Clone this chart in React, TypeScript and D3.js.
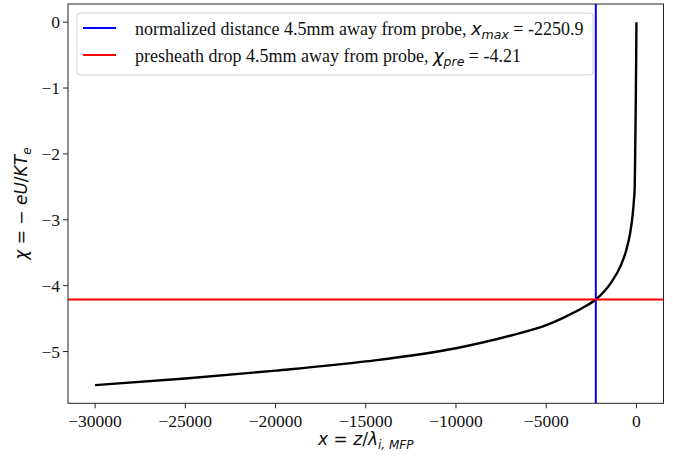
import React from "react";
import * as d3 from "d3";

// Normalized distance x = z/λ and normalized potential χ along the presheath
const xValues = [
  -30000, -25000, -20000, -15000, -10000, -7000, -5000, -4000, -3000, -2250.9,
  -1393, -877, -552, -348, -219, -138, -95, -70, -48, -29, -13, 0,
];
const chiValues = [
  -5.51, -5.41, -5.29, -5.15, -4.95, -4.76, -4.6, -4.48, -4.34, -4.21,
  -3.95, -3.7, -3.45, -3.2, -2.95, -2.7, -2.5, -2.0, -1.5, -1.0, -0.5, 0,
];

const xMax = -2250.9;
const chiPre = -4.21;

const xTicks = [-30000, -25000, -20000, -15000, -10000, -5000, 0];
const yTicks = [0, -1, -2, -3, -4, -5];

const W = 673;
const H = 459;
const M = { left: 68, right: 663.5, top: 4, bottom: 403.3 };

const serif = "'Liberation Serif', 'Times New Roman', serif";
const math = "'DejaVu Sans', sans-serif";

const fmt = (v: number) => (v < 0 ? "\u2212" + Math.abs(v) : String(v));

export default function App() {
  const xMin = d3.min(xValues)!;
  const xHi = d3.max(xValues)!;
  const xPad = (xHi - xMin) * 0.05;
  const yMin = d3.min(chiValues)!;
  const yHi = d3.max(chiValues)!;
  const yPad = (yHi - yMin) * 0.05;

  const x = d3.scaleLinear().domain([xMin - xPad, xHi + xPad]).range([M.left, M.right]);
  const y = d3.scaleLinear().domain([yMin - yPad, yHi + yPad]).range([M.bottom, M.top]);

  const pts = xValues.map((v, i) => [v, chiValues[i]] as [number, number]);
  const line = d3
    .line<[number, number]>()
    .x((d) => x(d[0]))
    .y((d) => y(d[1]))
    .curve(d3.curveMonotoneX);

  const legendX = 77;
  const legendY = 13;
  const legendW = 516;
  const legendH = 62;

  return (
    <svg
      width={W}
      height={H}
      style={{ position: "absolute", left: 0, top: 0, background: "#fff" }}
    >
      <defs>
        <clipPath id="plotArea">
          <rect x={M.left} y={M.top} width={M.right - M.left} height={M.bottom - M.top} />
        </clipPath>
      </defs>

      <g clipPath="url(#plotArea)">
        <path d={line(pts) ?? ""} fill="none" stroke="#000" strokeWidth={2.4} strokeLinejoin="round" />
        <line x1={x(xMax)} x2={x(xMax)} y1={M.top} y2={M.bottom} stroke="#0000ff" strokeWidth={2} />
        <line x1={M.left} x2={M.right} y1={y(chiPre)} y2={y(chiPre)} stroke="#ff0000" strokeWidth={2} />
      </g>

      {/* frame */}
      <rect
        x={M.left}
        y={M.top}
        width={M.right - M.left}
        height={M.bottom - M.top}
        fill="none"
        stroke="#222"
        strokeWidth={1}
      />

      {/* x axis */}
      {xTicks.map((t) => (
        <g key={"x" + t}>
          <line x1={x(t)} x2={x(t)} y1={M.bottom} y2={M.bottom + 5} stroke="#222" />
          <text x={x(t)} y={M.bottom + 23.3} textAnchor="middle" fontFamily={serif} fontSize={17.5} fill="#111">
            {fmt(t)}
          </text>
        </g>
      ))}

      {/* y axis */}
      {yTicks.map((t) => (
        <g key={"y" + t}>
          <line x1={M.left - 5} x2={M.left} y1={y(t)} y2={y(t)} stroke="#222" />
          <text x={M.left - 8} y={y(t) + 6} textAnchor="end" fontFamily={serif} fontSize={17.5} fill="#111">
            {fmt(t)}
          </text>
        </g>
      ))}

      {/* axis titles */}
      <text x={(M.left + M.right) / 2} y={445} textAnchor="middle" fontFamily={math} fontSize={17} fill="#111">
        <tspan fontStyle="italic">x</tspan>
        <tspan> = </tspan>
        <tspan fontStyle="italic">z</tspan>
        <tspan>/</tspan>
        <tspan fontStyle="italic">λ</tspan>
        <tspan fontStyle="italic" fontSize={12} dy={4}>i, MFP</tspan>
      </text>

      <text
        transform={`translate(27, ${(M.top + M.bottom) / 2}) rotate(-90)`}
        textAnchor="middle"
        fontFamily={math}
        fontSize={17}
        fill="#111"
      >
        <tspan fontStyle="italic">χ</tspan>
        <tspan> = − </tspan>
        <tspan fontStyle="italic">eU</tspan>
        <tspan>/</tspan>
        <tspan fontStyle="italic">KT</tspan>
        <tspan fontStyle="italic" fontSize={12} dy={4}>e</tspan>
      </text>

      {/* legend */}
      <rect
        x={legendX}
        y={legendY}
        width={legendW}
        height={legendH}
        rx={3}
        fill="#fff"
        fillOpacity={0.85}
        stroke="#d0d0d0"
        strokeWidth={1}
      />
      <line x1={83} x2={116} y1={28} y2={28} stroke="#0000ff" strokeWidth={2} />
      <text x={135} y={35} fontFamily={serif} fontSize={18} fill="#111">
        <tspan>normalized distance 4.5mm away from probe, </tspan>
        <tspan fontFamily={math} fontStyle="italic">x</tspan>
        <tspan fontFamily={math} fontStyle="italic" fontSize={12.5} dy={4}>max</tspan>
        <tspan dy={-4}> = -2250.9</tspan>
      </text>
      <line x1={83} x2={116} y1={55} y2={55} stroke="#ff0000" strokeWidth={2} />
      <text x={135} y={62} fontFamily={serif} fontSize={18} fill="#111">
        <tspan>presheath drop 4.5mm away from probe, </tspan>
        <tspan fontFamily={math} fontStyle="italic">χ</tspan>
        <tspan fontFamily={math} fontStyle="italic" fontSize={12.5} dy={4}>pre</tspan>
        <tspan dy={-4}> = -4.21</tspan>
      </text>
    </svg>
  );
}
